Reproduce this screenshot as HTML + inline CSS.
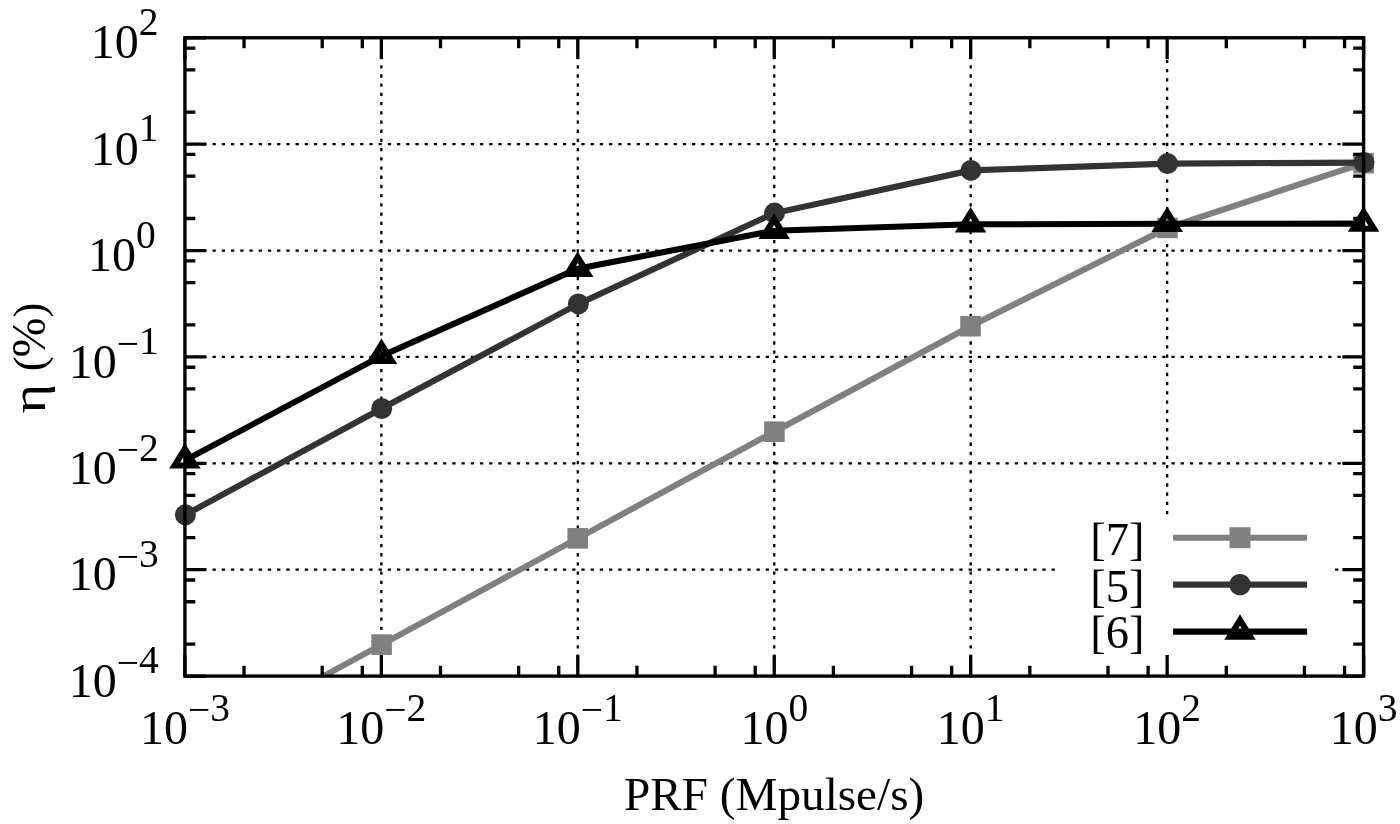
<!DOCTYPE html>
<html><head><meta charset="utf-8"><title>PRF vs efficiency</title><style>
html,body{margin:0;padding:0;background:#fff;overflow:hidden;}
svg{display:block;}
text{font-family:"Liberation Serif","Times New Roman",serif;fill:#000;}
</style></head><body>
<svg width="1400" height="824" viewBox="0 0 1400 824">
<rect x="0" y="0" width="1400" height="824" fill="#fff"/>
<defs><clipPath id="pc"><rect x="184.90" y="37.76" width="1178.70" height="638.34"/></clipPath></defs>
<path d="M184.90,569.71H1057.50M1335.10,569.71H1363.60M184.90,463.32H1363.60M184.90,356.93H1363.60M184.90,250.54H1363.60M184.90,144.15H1363.60" stroke="#000" stroke-width="2.30" stroke-dasharray="3.3 5.92" fill="none"/>
<path d="M381.35,676.10V37.76M577.80,676.10V37.76M774.25,676.10V37.76M970.70,676.10V37.76M1167.15,676.10V654.90M1167.15,514.25V37.76" stroke="#000" stroke-width="2.30" stroke-dasharray="3.3 5.907" fill="none"/>
<polyline clip-path="url(#pc)" points="323.50,676.10 381.60,644.60 577.70,538.35 774.40,431.70 970.50,326.20 1167.50,227.90 1363.60,163.20" fill="none" stroke="#808080" stroke-width="6.10" stroke-linejoin="miter"/>
<rect x="371.30" y="634.30" width="20.60" height="20.60" fill="#808080"/>
<rect x="567.40" y="528.05" width="20.60" height="20.60" fill="#808080"/>
<rect x="764.10" y="421.40" width="20.60" height="20.60" fill="#808080"/>
<rect x="960.20" y="315.90" width="20.60" height="20.60" fill="#808080"/>
<rect x="1157.20" y="217.60" width="20.60" height="20.60" fill="#808080"/>
<rect x="1353.30" y="152.90" width="20.60" height="20.60" fill="#808080"/>
<polyline clip-path="url(#pc)" points="185.40,514.80 381.70,408.50 578.40,303.90 774.50,213.10 970.90,170.40 1167.50,163.60 1364.00,162.60" fill="none" stroke="#333333" stroke-width="6.10" stroke-linejoin="miter"/>
<circle cx="185.40" cy="514.80" r="10.50" fill="#333333"/>
<circle cx="381.70" cy="408.50" r="10.50" fill="#333333"/>
<circle cx="578.40" cy="303.90" r="10.50" fill="#333333"/>
<circle cx="774.50" cy="213.10" r="10.50" fill="#333333"/>
<circle cx="970.90" cy="170.40" r="10.50" fill="#333333"/>
<circle cx="1167.50" cy="163.60" r="10.50" fill="#333333"/>
<circle cx="1364.00" cy="162.60" r="10.50" fill="#333333"/>
<polyline clip-path="url(#pc)" points="184.90,460.40 381.50,355.90 577.70,268.70 774.20,230.70 970.60,224.30 1167.20,223.80 1363.60,223.60" fill="none" stroke="#000000" stroke-width="6.10" stroke-linejoin="miter"/>
<path d="M184.90,448.86L174.60,465.55L195.20,465.55Z" fill="none" stroke="#000" stroke-width="6.1" stroke-linejoin="miter" stroke-miterlimit="10"/>
<path d="M381.50,344.36L371.20,361.05L391.80,361.05Z" fill="none" stroke="#000" stroke-width="6.1" stroke-linejoin="miter" stroke-miterlimit="10"/>
<path d="M577.70,257.16L567.40,273.85L588.00,273.85Z" fill="none" stroke="#000" stroke-width="6.1" stroke-linejoin="miter" stroke-miterlimit="10"/>
<path d="M774.20,219.16L763.90,235.85L784.50,235.85Z" fill="none" stroke="#000" stroke-width="6.1" stroke-linejoin="miter" stroke-miterlimit="10"/>
<path d="M970.60,212.76L960.30,229.45L980.90,229.45Z" fill="none" stroke="#000" stroke-width="6.1" stroke-linejoin="miter" stroke-miterlimit="10"/>
<path d="M1167.20,212.26L1156.90,228.95L1177.50,228.95Z" fill="none" stroke="#000" stroke-width="6.1" stroke-linejoin="miter" stroke-miterlimit="10"/>
<path d="M1363.60,212.06L1353.30,228.75L1373.90,228.75Z" fill="none" stroke="#000" stroke-width="6.1" stroke-linejoin="miter" stroke-miterlimit="10"/>
<line x1="1173.1" y1="537.70" x2="1307.1" y2="537.70" stroke="#808080" stroke-width="6.1"/>
<rect x="1229.50" y="527.20" width="21.00" height="21.00" fill="#808080"/>
<line x1="1173.1" y1="584.60" x2="1307.1" y2="584.60" stroke="#333333" stroke-width="6.1"/>
<circle cx="1240.00" cy="584.60" r="10.70" fill="#333333"/>
<line x1="1173.1" y1="631.60" x2="1307.1" y2="631.60" stroke="#000000" stroke-width="6.1"/>
<path d="M1240.00,620.06L1229.70,636.75L1250.30,636.75Z" fill="none" stroke="#000" stroke-width="6.1" stroke-linejoin="miter" stroke-miterlimit="10"/>
<text x="1144.5" y="554.6" font-size="46.5" text-anchor="end">[7]</text>
<text x="1144.5" y="601.5" font-size="46.5" text-anchor="end">[5]</text>
<text x="1144.5" y="648.4" font-size="46.5" text-anchor="end">[6]</text>
<path d="M184.90,676.10V654.90M184.90,37.76V58.96M244.04,676.10V665.70M244.04,37.76V48.16M322.21,676.10V665.70M322.21,37.76V48.16M362.31,676.10V665.70M362.31,37.76V48.16M381.35,676.10V654.90M381.35,37.76V58.96M440.49,676.10V665.70M440.49,37.76V48.16M518.66,676.10V665.70M518.66,37.76V48.16M558.76,676.10V665.70M558.76,37.76V48.16M577.80,676.10V654.90M577.80,37.76V58.96M636.94,676.10V665.70M636.94,37.76V48.16M715.11,676.10V665.70M715.11,37.76V48.16M755.21,676.10V665.70M755.21,37.76V48.16M774.25,676.10V654.90M774.25,37.76V58.96M833.39,676.10V665.70M833.39,37.76V48.16M911.56,676.10V665.70M911.56,37.76V48.16M951.66,676.10V665.70M951.66,37.76V48.16M970.70,676.10V654.90M970.70,37.76V58.96M1029.84,676.10V665.70M1029.84,37.76V48.16M1108.01,676.10V665.70M1108.01,37.76V48.16M1148.11,676.10V665.70M1148.11,37.76V48.16M1167.15,676.10V654.90M1167.15,37.76V58.96M1226.29,676.10V665.70M1226.29,37.76V48.16M1304.46,676.10V665.70M1304.46,37.76V48.16M1344.56,676.10V665.70M1344.56,37.76V48.16M1363.60,676.10V654.90M1363.60,37.76V58.96M184.90,676.10H206.10M1363.60,676.10H1342.40M184.90,644.07H195.30M1363.60,644.07H1353.20M184.90,601.74H195.30M1363.60,601.74H1353.20M184.90,580.02H195.30M1363.60,580.02H1353.20M184.90,569.71H206.10M1363.60,569.71H1342.40M184.90,537.68H195.30M1363.60,537.68H1353.20M184.90,495.35H195.30M1363.60,495.35H1353.20M184.90,473.63H195.30M1363.60,473.63H1353.20M184.90,463.32H206.10M1363.60,463.32H1342.40M184.90,431.29H195.30M1363.60,431.29H1353.20M184.90,388.96H195.30M1363.60,388.96H1353.20M184.90,367.24H195.30M1363.60,367.24H1353.20M184.90,356.93H206.10M1363.60,356.93H1342.40M184.90,324.90H195.30M1363.60,324.90H1353.20M184.90,282.57H195.30M1363.60,282.57H1353.20M184.90,260.85H195.30M1363.60,260.85H1353.20M184.90,250.54H206.10M1363.60,250.54H1342.40M184.90,218.51H195.30M1363.60,218.51H1353.20M184.90,176.18H195.30M1363.60,176.18H1353.20M184.90,154.46H195.30M1363.60,154.46H1353.20M184.90,144.15H206.10M1363.60,144.15H1342.40M184.90,112.12H195.30M1363.60,112.12H1353.20M184.90,69.79H195.30M1363.60,69.79H1353.20M184.90,48.07H195.30M1363.60,48.07H1353.20M184.90,37.76H206.10M1363.60,37.76H1342.40" stroke="#000" stroke-width="3.30" fill="none"/>
<rect x="184.90" y="37.76" width="1178.70" height="638.34" fill="none" stroke="#000" stroke-width="3.40" stroke-linejoin="miter"/>
<text x="184.90" y="743.9" font-size="48" text-anchor="middle">10<tspan font-size="39.5" dy="-20.8">−</tspan><tspan font-size="39.5" dy="-2.6">3</tspan></text>
<text x="381.35" y="743.9" font-size="48" text-anchor="middle">10<tspan font-size="39.5" dy="-20.8">−</tspan><tspan font-size="39.5" dy="-2.6">2</tspan></text>
<text x="577.80" y="743.9" font-size="48" text-anchor="middle">10<tspan font-size="39.5" dy="-20.8">−</tspan><tspan font-size="39.5" dy="-2.6">1</tspan></text>
<text x="774.25" y="743.9" font-size="48" text-anchor="middle">10<tspan font-size="39.5" dy="-23.4">0</tspan></text>
<text x="970.70" y="743.9" font-size="48" text-anchor="middle">10<tspan font-size="39.5" dy="-23.4">1</tspan></text>
<text x="1167.15" y="743.9" font-size="48" text-anchor="middle">10<tspan font-size="39.5" dy="-23.4">2</tspan></text>
<text x="1363.60" y="743.9" font-size="48" text-anchor="middle">10<tspan font-size="39.5" dy="-23.4">3</tspan></text>
<text x="158.70" y="696.80" font-size="48" text-anchor="end">10<tspan font-size="39.5" dy="-20.8">−</tspan><tspan font-size="39.5" dy="-2.6">4</tspan></text>
<text x="158.70" y="590.41" font-size="48" text-anchor="end">10<tspan font-size="39.5" dy="-20.8">−</tspan><tspan font-size="39.5" dy="-2.6">3</tspan></text>
<text x="158.70" y="484.02" font-size="48" text-anchor="end">10<tspan font-size="39.5" dy="-20.8">−</tspan><tspan font-size="39.5" dy="-2.6">2</tspan></text>
<text x="158.70" y="377.63" font-size="48" text-anchor="end">10<tspan font-size="39.5" dy="-20.8">−</tspan><tspan font-size="39.5" dy="-2.6">1</tspan></text>
<text x="155.80" y="271.24" font-size="48" text-anchor="end">10<tspan font-size="39.5" dy="-23.4">0</tspan></text>
<text x="158.40" y="164.85" font-size="48" text-anchor="end">10<tspan font-size="39.5" dy="-23.4">1</tspan></text>
<text x="158.40" y="58.46" font-size="48" text-anchor="end">10<tspan font-size="39.5" dy="-23.4">2</tspan></text>
<text x="774.15" y="809.6" font-size="47.2" text-anchor="middle">PRF (Mpulse/s)</text>
<text transform="rotate(-90)" font-size="48"><tspan x="-413.4" y="45.2" textLength="29.6" lengthAdjust="spacingAndGlyphs">η</tspan> <tspan x="-371.2" y="44.2" font-size="44.5">(</tspan><tspan x="-357.4" y="45.2">%</tspan><tspan x="-317.4" y="44.2" font-size="44.5">)</tspan></text>
</svg>
</body></html>
